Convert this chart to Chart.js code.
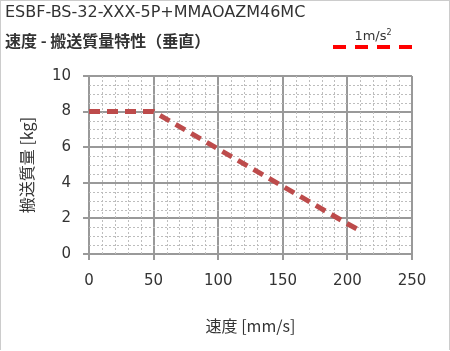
<!DOCTYPE html>
<html>
<head>
<meta charset="utf-8">
<script src="https://cdn.jsdelivr.net/npm/chart.js@4"></script>
<style>
  html, body { margin: 0; padding: 0; background: #fff; }
  #wrap { position: relative; width: 448px; height: 349px; border: 1px solid #ccc; border-bottom: none; overflow: hidden; }
  canvas { position: absolute; left: 0; top: 0; }
  .t1 { position: absolute; left: 4px; top: 1px; font: 16px "DejaVu Sans", "Noto Sans CJK JP", sans-serif; color: #333; white-space: nowrap; }
  .t2 { position: absolute; left: 4px; top: 27px; font: bold 16px "Noto Sans CJK JP", sans-serif; color: #333; white-space: nowrap; }
  .lg { position: absolute; left: 332px; top: 27px; width: 80px; text-align: center; font: 13px "DejaVu Sans", sans-serif; color: #333; }
  .lg i { display: block; margin-top: 2px; height: 4px; background: repeating-linear-gradient(to right, #ff0000 0 13px, transparent 13px 22px); }
  .lg sup { font-size: 8px; }
</style>
</head>
<body>
<div id="wrap">
  <canvas id="chart" width="450" height="351"></canvas>
  <div class="t1">ESBF-BS-32-XXX-5P+MMAOAZM46MC</div>
  <div class="t2">速度 - 搬送質量特性（垂直）</div>
  <div class="lg">1m/s<sup>2</sup><i></i></div>
</div>
<script>
const speed = [0, 50, 100, 150, 200, 210];
const mass = [8, 8, 5.9, 3.8, 1.7, 1.3];
const xTicks = [0, 50, 100, 150, 200, 250];
const yTicks = [0, 2, 4, 6, 8, 10];
const seriesLabel = '1m/s²';

const minorGrid = {
  id: 'minorGrid',
  beforeDatasetsDraw(chart) {
    const { ctx, chartArea: a, scales: { x, y } } = chart;
    ctx.save();
    ctx.strokeStyle = '#bdbdbd';
    ctx.lineWidth = 1;
    ctx.setLineDash([2, 2]);
    for (let v = 10; v < 250; v += 10) {
      if (v % 50 === 0) continue;
      const px = Math.round(x.getPixelForValue(v)) + 0.5;
      ctx.beginPath(); ctx.moveTo(px, a.top); ctx.lineTo(px, a.bottom); ctx.stroke();
    }
    for (let v = 0.5; v < 10; v += 0.5) {
      if (v % 2 === 0) continue;
      const py = Math.round(y.getPixelForValue(v)) + 0.5;
      ctx.beginPath(); ctx.moveTo(a.left, py); ctx.lineTo(a.right, py); ctx.stroke();
    }
    ctx.restore();
  }
};

const tickFont = { family: 'DejaVu Sans', size: 15 };
const titleFont = { family: 'Noto Sans CJK JP', size: 16 };

new Chart(document.getElementById('chart').getContext('2d'), {
  type: 'line',
  data: {
    datasets: [{
      label: seriesLabel,
      data: speed.map((s, i) => ({ x: s, y: mass[i] })),
      borderColor: '#bd4b4b',
      borderWidth: 5,
      borderDash: [11, 7],
      pointRadius: 0,
      fill: false,
      tension: 0
    }]
  },
  options: {
    responsive: false,
    animation: false,
    layout: { padding: { top: 75, right: 39, left: 0, bottom: 0 } },
    plugins: { legend: { display: false }, tooltip: { enabled: false } },
    scales: {
      x: {
        type: 'linear', min: 0, max: 250,
        afterBuildTicks: s => { s.ticks = xTicks.map(v => ({ value: v })); },
        afterFit: s => { s.height = 98; },
        grid: { color: '#999', lineWidth: 2, tickLength: 6 },
        border: { color: '#999', width: 2 },
        ticks: { color: '#333', font: tickFont, padding: 12, maxRotation: 0 },
        title: { display: true, text: '速度 [mm/s]', color: '#333', font: titleFont, padding: { top: 0, bottom: 16 } }
      },
      y: {
        type: 'linear', min: 0, max: 10,
        afterBuildTicks: s => { s.ticks = yTicks.map(v => ({ value: v })); },
        afterFit: s => { s.width = 88; },
        grid: { color: '#999', lineWidth: 2, tickLength: 6 },
        border: { color: '#999', width: 2 },
        ticks: { color: '#333', font: tickFont, padding: 12 },
        title: { display: true, text: '搬送質量 [kg]', color: '#333', font: titleFont, padding: { top: 16, bottom: 0 } }
      }
    }
  },
  plugins: [minorGrid]
});
</script>
</body>
</html>
